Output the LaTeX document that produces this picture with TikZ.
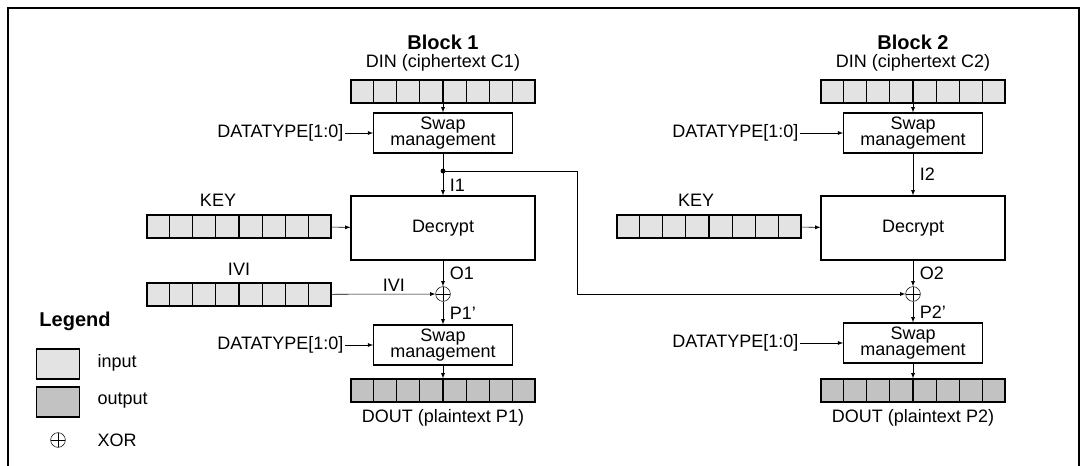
\documentclass[tikz,border=0pt]{standalone}
\usepackage{fontspec}
\setmainfont{Liberation Sans}
\usetikzlibrary{positioning,calc}

\definecolor{ingray}{gray}{0.89}
\definecolor{outgray}{gray}{0.76}

\tikzset{
    box/.style={draw,thick,minimum width=104pt,minimum height=30pt,align=center,inner sep=0pt,font=\fontsize{13.5}{12}\selectfont},
    bigbox/.style={draw,thick,minimum width=138pt,minimum height=48pt,font=\fontsize{13.5}{14}\selectfont},
    reg/.style={draw,thick,minimum width=138pt,minimum height=17.25pt,inner sep=0pt},
    lab/.style={font=\fontsize{13.5}{14}\selectfont,inner sep=1pt},
    ttl/.style={font=\bfseries\fontsize{15}{16}\selectfont,inner sep=1pt},
    xorc/.style={draw,circle,minimum size=11pt,inner sep=0pt,path picture={
        \draw (path picture bounding box.north) -- (path picture bounding box.south)
              (path picture bounding box.west) -- (path picture bounding box.east);}},
    arr/.style={-latex},
}

\newcommand{\cells}[1]{%
    \foreach \i in {1,...,7}
    {
        \draw[thick] ($(#1.south west)!\i/8!(#1.south east)$) -- ($(#1.north west)!\i/8!(#1.north east)$);
    }
}

\begin{document}
\begin{tikzpicture}[x=0.75pt,y=-0.75pt]

\useasboundingbox (0,0) rectangle (1087,466);
\draw[very thick] (8,8) rectangle (1079,470);

% block 1
\node[ttl] (t1) at (443,42) {Block 1};
\node[lab] (din1l) at (443,63) {DIN (ciphertext C1)};
\node[reg,fill=ingray] (din1) at (443,91.5) {};
\cells{din1}
\node[box] (sw1) at (443,133) {Swap\\management};
\node[lab,anchor=east] (dt1) at (345,133) {DATATYPE[1:0]};
\node[bigbox] (dec1) at (443,228) {Decrypt};
\node[reg,fill=ingray] (key1) at (239,226.5) {};
\cells{key1}
\node[lab] (key1l) at (218,200) {KEY};
\node[xorc] (x1) at (443,294) {};
\node[reg,fill=ingray] (ivi1) at (239,294.5) {};
\cells{ivi1}
\node[lab] (ivi1l) at (239,269) {IVI};
\node[box] (sw2) at (443,345) {Swap\\management};
\node[lab,anchor=east] (dt2) at (345,345) {DATATYPE[1:0]};
\node[reg,fill=outgray] (dout1) at (443,390.5) {};
\cells{dout1}
\node[lab] (dout1l) at (443,418) {DOUT (plaintext P1)};
\coordinate (j1) at (443,171);
\coordinate (c1) at (577,171);
\coordinate (c2) at (577,294);

\draw[arr] (din1) -- (sw1);
\draw[arr] (dt1) -- (sw1);
\draw (sw1) -- (j1);
\draw[arr] (j1) -- node[lab,right=4pt,pos=0.6] {I1} (dec1);
\fill (j1) circle (1.8pt);
\draw[arr] (key1) -- (dec1);
\draw[arr] (dec1) -- node[lab,right=4pt] {O1} (x1);
\draw[arr] (ivi1) -- node[lab,above=1pt,pos=0.6] {IVI} (x1);
\draw[arr] (x1) -- node[lab,right=4pt] {P1'} (sw2);
\draw[arr] (dt2) -- (sw2);
\draw[arr] (sw2) -- (dout1);

% block 2
\node[ttl] (t2) at (913,42) {Block 2};
\node[lab] (din2l) at (913,63) {DIN (ciphertext C2)};
\node[reg,fill=ingray] (din2) at (913,91.5) {};
\cells{din2}
\node[box] (sw3) at (913,133) {Swap\\management};
\node[lab,anchor=east] (dt3) at (800,133) {DATATYPE[1:0]};
\node[bigbox] (dec2) at (913,228) {Decrypt};
\node[reg,fill=ingray] (key2) at (709,226.5) {};
\cells{key2}
\node[lab] (key2l) at (696,200) {KEY};
\node[xorc] (x2) at (913,294) {};
\node[box] (sw4) at (913,343) {Swap\\management};
\node[lab,anchor=east] (dt4) at (800,343) {DATATYPE[1:0]};
\node[reg,fill=outgray] (dout2) at (913,390.5) {};
\cells{dout2}
\node[lab] (dout2l) at (913,418) {DOUT (plaintext P2)};

\draw[arr] (din2) -- (sw3);
\draw[arr] (dt3) -- (sw3);
\draw[arr] (sw3) -- node[lab,right=4pt] {I2} (dec2);
\draw[arr] (key2) -- (dec2);
\draw[arr] (dec2) -- node[lab,right=4pt] {O2} (x2);
\draw[arr] (j1) -- (c1) -- (c2) -- (x2);
\draw[arr] (x2) -- node[lab,right=4pt] {P2'} (sw4);
\draw[arr] (dt4) -- (sw4);
\draw[arr] (sw4) -- (dout2);

% legend
\node[ttl] (legl) at (75,321) {Legend};
\node[draw,thick,fill=ingray,minimum width=32pt,minimum height=22.5pt] (lin) at (58,364) {};
\node[lab,anchor=west] (linl) at (96,363) {input};
\node[draw,thick,fill=outgray,minimum width=32pt,minimum height=22.5pt] (lout) at (58,402) {};
\node[lab,anchor=west] (loutl) at (96,401) {output};
\node[xorc] (lx) at (58,440) {};
\node[lab,anchor=west] (lxl) at (96,440) {XOR};

\end{tikzpicture}
\end{document}
